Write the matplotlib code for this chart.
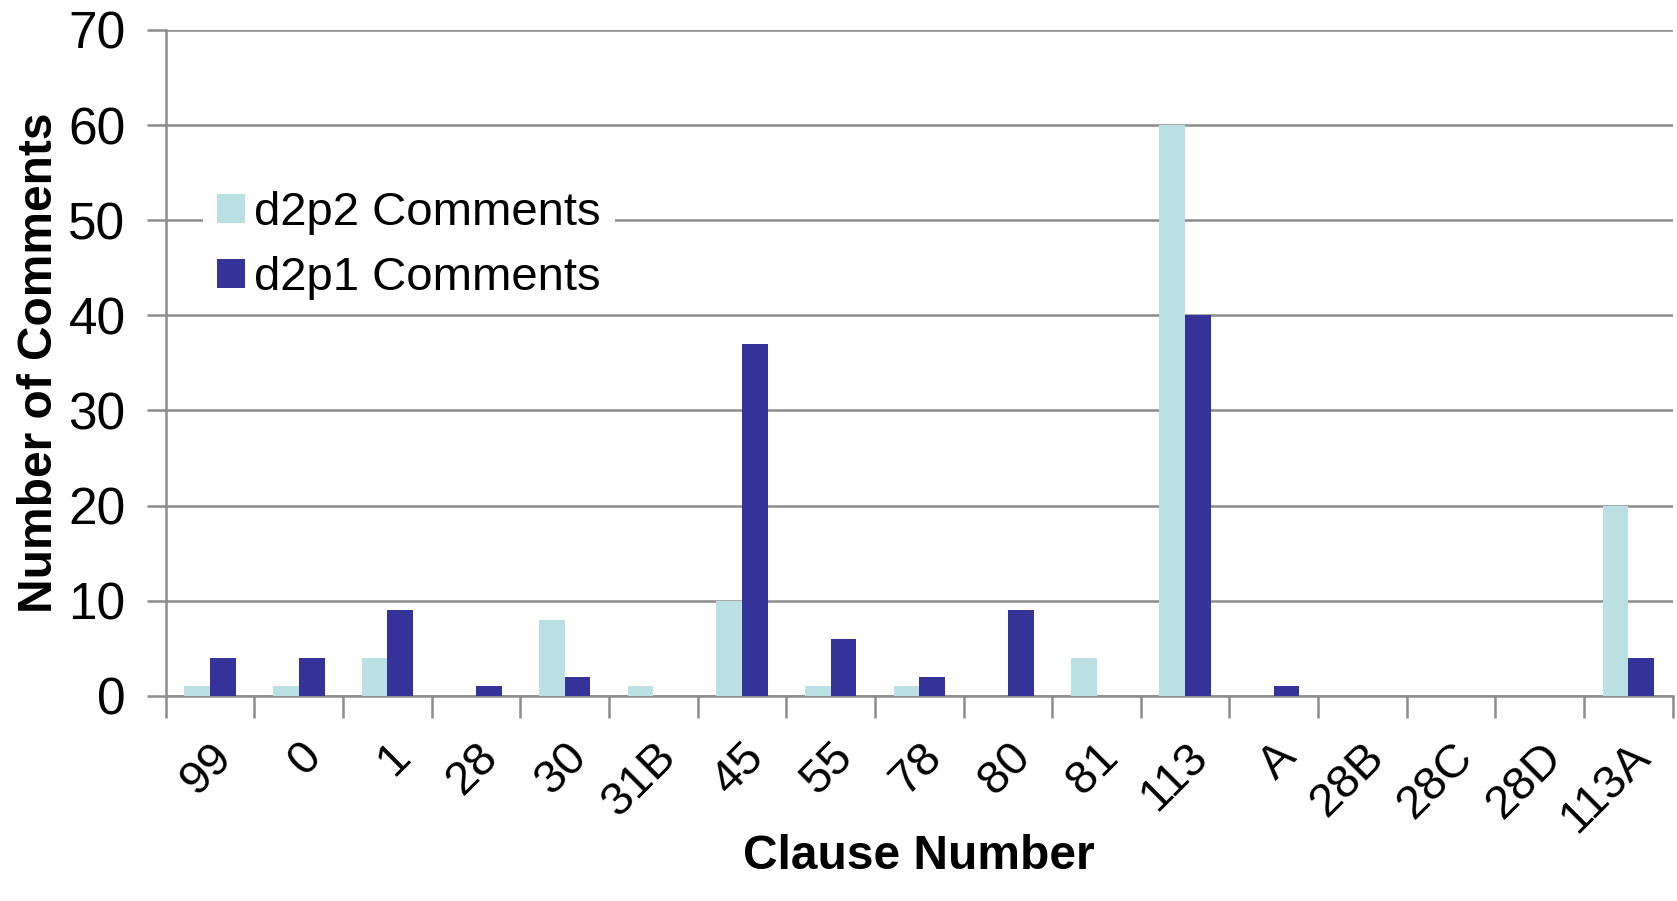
import numpy as np
import matplotlib.pyplot as plt

clauses = ['99', '0', '1', '28', '30', '31B', '45', '55', '78', '80', '81',
           '113', 'A', '28B', '28C', '28D', '113A']
d2p2 = [1, 1, 4, 0, 8, 1, 10, 1, 1, 0, 4, 60, 0, 0, 0, 0, 20]
d2p1 = [4, 4, 9, 1, 2, 0, 37, 6, 2, 9, 0, 40, 1, 0, 0, 0, 4]

light = '#BAE0E3'
dark = '#353399'
grey = '#8C8C8C'

plt.rcParams['font.family'] = ['Liberation Sans', 'DejaVu Sans']

fig = plt.figure(figsize=(16.77, 9.01), dpi=100)
ax = fig.add_axes([0.0989, 0.2278, 0.8985, 0.739])

x = np.arange(len(clauses))
w = 0.29
ax.bar(x - w / 2, d2p2, w, color=light, label='d2p2 Comments', zorder=3)
ax.bar(x + w / 2, d2p1, w, color=dark, label='d2p1 Comments', zorder=3)

ax.set_xlim(-0.5, len(clauses) - 0.5)
ax.set_ylim(0, 70)
ax.set_yticks(range(0, 71, 10))
ax.yaxis.grid(True, color=grey, linewidth=1.8, zorder=0)

# ticks between categories on x
ax.set_xticks(np.arange(-0.5, len(clauses), 1.0))
ax.set_xticklabels([])
ax.set_xticks(x, minor=True)
ax.set_xticklabels(clauses, minor=True, rotation=45, ha='right', va='top',
                   rotation_mode='anchor', fontsize=34)
ax.tick_params(axis='x', which='minor', length=0, pad=28)
ax.tick_params(axis='x', which='major', length=16, width=1.8, color=grey)
ax.tick_params(axis='y', length=14, width=1.8, color=grey, labelsize=37, pad=15)

for s in ['top', 'right']:
    ax.spines[s].set_visible(False)
for s in ['left', 'bottom']:
    ax.spines[s].set_color(grey)
    ax.spines[s].set_linewidth(1.8)

ax.set_ylabel('Number of Comments', fontsize=34.5, fontweight='bold', va='center')
ax.yaxis.set_label_coords(-0.084, 0.5)
ax.set_xlabel('Clause Number', fontsize=34.5, fontweight='bold')
ax.xaxis.set_label_coords(0.5, -0.207)

leg = ax.legend(loc='upper left', bbox_to_anchor=(0.009, 0.815), fontsize=34,
                frameon=True, fancybox=False, edgecolor='none', facecolor='white',
                framealpha=1, handlelength=0.58, handleheight=0.58,
                handletextpad=0.2, labelspacing=0.45, borderpad=0.3)
leg.set_zorder(5)

fig.savefig('out.png', dpi=100)
